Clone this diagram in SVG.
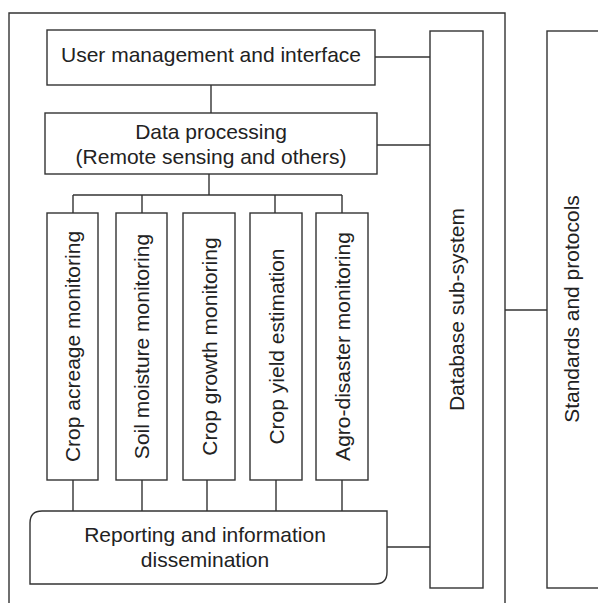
<svg xmlns="http://www.w3.org/2000/svg" width="598" height="603" viewBox="0 0 598 603">
  <style>
    .box { fill: #ffffff; stroke: #333333; stroke-width: 1.4; }
    .ln { fill: none; stroke: #333333; stroke-width: 1.4; }
    .t { font-family: "Liberation Sans", Arial, sans-serif; font-size: 21px; fill: #222222; text-anchor: middle; }
  </style>
  <rect width="598" height="603" fill="#ffffff"/>

  <!-- outer system frame (open at the bottom) -->
  <path class="ln" d="M9,603 V13 H505 V603"/>

  <g id="connectors">
    <line class="ln" x1="211" y1="85" x2="211" y2="113"/>
    <line class="ln" x1="375" y1="57" x2="430" y2="57"/>
    <line class="ln" x1="377" y1="145" x2="430" y2="145"/>
    <line class="ln" x1="209" y1="174" x2="209" y2="195"/>
    <line class="ln" x1="73" y1="195" x2="342" y2="195"/>
    <line class="ln" x1="73" y1="195" x2="73" y2="213"/>
    <line class="ln" x1="142" y1="195" x2="142" y2="213"/>
    <line class="ln" x1="275" y1="195" x2="275" y2="213"/>
    <line class="ln" x1="342" y1="195" x2="342" y2="213"/>
    <line class="ln" x1="73" y1="480" x2="73" y2="511"/>
    <line class="ln" x1="142" y1="480" x2="142" y2="511"/>
    <line class="ln" x1="207" y1="480" x2="207" y2="511"/>
    <line class="ln" x1="276" y1="480" x2="276" y2="511"/>
    <line class="ln" x1="342" y1="480" x2="342" y2="511"/>
    <line class="ln" x1="387" y1="547" x2="430" y2="547"/>
    <line class="ln" x1="505" y1="310" x2="547" y2="310"/>
  </g>

  <g id="user-management">
    <rect class="box" x="47" y="30" width="328" height="55"/>
    <text class="t" x="211" y="62">User management and interface</text>
  </g>

  <g id="data-processing">
    <rect class="box" x="45" y="113" width="332" height="61"/>
    <text class="t" x="211" y="139">Data processing</text>
    <text class="t" x="211" y="164">(Remote sensing and others)</text>
  </g>

  <g id="crop-acreage">
    <rect class="box" x="47" y="213" width="51" height="267"/>
    <text class="t" transform="translate(72.5,346.5) rotate(-90)" x="0" y="7.5">Crop acreage monitoring</text>
  </g>

  <g id="soil-moisture">
    <rect class="box" x="116" y="213" width="51" height="267"/>
    <text class="t" transform="translate(141.5,346.5) rotate(-90)" x="0" y="7.5">Soil moisture monitoring</text>
  </g>

  <g id="crop-growth">
    <rect class="box" x="183" y="213" width="52" height="267"/>
    <text class="t" transform="translate(209,346.5) rotate(-90)" x="0" y="7.5">Crop growth monitoring</text>
  </g>

  <g id="crop-yield">
    <rect class="box" x="250" y="213" width="52" height="267"/>
    <text class="t" transform="translate(276,346.5) rotate(-90)" x="0" y="7.5">Crop yield estimation</text>
  </g>

  <g id="agro-disaster">
    <rect class="box" x="316" y="213" width="52" height="267"/>
    <text class="t" transform="translate(342,346.5) rotate(-90)" x="0" y="7.5">Agro-disaster monitoring</text>
  </g>

  <g id="reporting">
    <path class="box" d="M30,584 V523 Q30,511 42,511 H387 V572 Q387,584 375,584 Z"/>
    <text class="t" x="205" y="542">Reporting and information</text>
    <text class="t" x="205" y="567">dissemination</text>
  </g>

  <g id="database">
    <rect class="box" x="430" y="31" width="53" height="557"/>
    <text class="t" transform="translate(456.5,309.5) rotate(-90)" x="0" y="7">Database sub-system</text>
  </g>

  <g id="standards">
    <rect class="box" x="547" y="31" width="70" height="557"/>
    <text class="t" transform="translate(571,309) rotate(-90)" x="0" y="7.5">Standards and protocols</text>
  </g>
</svg>
